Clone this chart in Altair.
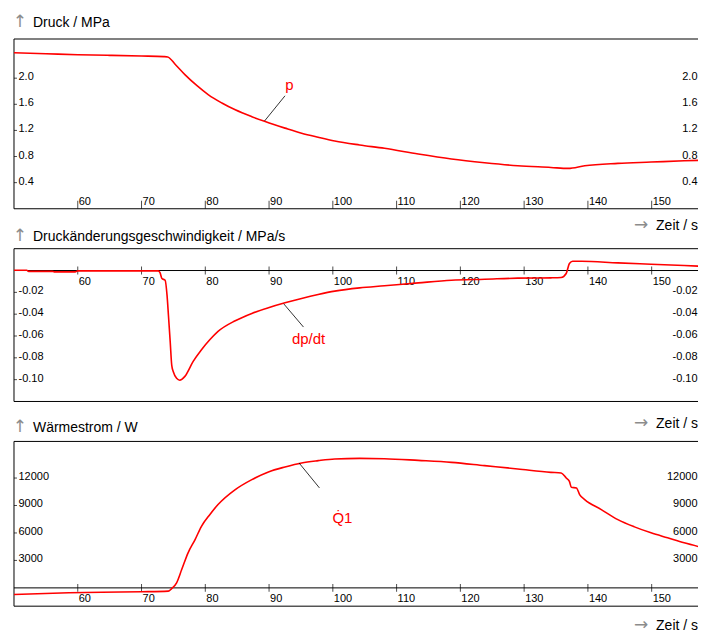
import altair as alt
import pandas as pd

# ---------------- data ----------------
t_p = [50, 55, 60, 65, 70, 73.5, 74.1, 75.3, 76.8, 78.7, 80.5, 82.6, 84.7, 87.3, 89.4,
       92.5, 95.1, 97.7, 100.3, 104.2, 108.1, 113.4, 118.6, 123.8, 129.0, 134.2, 136.9,
       139.5, 144.7, 149.9, 155.1, 158.8]
p_vals = [2.39, 2.375, 2.36, 2.35, 2.34, 2.33, 2.325, 2.21, 2.055, 1.885, 1.745, 1.62, 1.515,
          1.41, 1.335, 1.235, 1.157, 1.095, 1.038, 0.977, 0.926, 0.838, 0.762, 0.705, 0.659,
          0.633, 0.618, 0.659, 0.695, 0.715, 0.735, 0.746]

t_dp = [50, 52, 52.3, 56, 56.3, 59.6, 60, 65, 72.6, 72.9, 73.2, 73.7, 74.0, 74.22, 74.5,
        74.74, 75.0, 75.5, 76.0, 76.8, 78.1, 79.4, 80.7, 82.0, 84.7, 87.3, 89.9, 92.5, 95.1,
        97.7, 100.3, 104.2, 108.1, 113.4, 118.6, 123.8, 129.0, 134.2, 135.8, 136.6, 137.1,
        137.6, 139.0, 144.7, 149.9, 155.1, 158.8]
dp_vals = [0.0003, 0.0003, -0.0008, -0.0008, -0.0012, -0.0012, -0.0003, -0.0003, -0.0003,
           -0.002, -0.0073, -0.0089, -0.0226, -0.041, -0.0655, -0.0869, -0.093, -0.0988,
           -0.1005, -0.097, -0.0833, -0.0726, -0.0635, -0.0558, -0.046, -0.0393, -0.0341,
           -0.0296, -0.0256, -0.022, -0.0189, -0.0159, -0.014, -0.0113, -0.0089, -0.008,
           -0.007, -0.0067, -0.0064, -0.0027, 0.0064, 0.0085, 0.0085, 0.007, 0.0058, 0.0046,
           0.0037]

t_q = [50, 58.6, 63.8, 70, 74.2, 74.7, 75.5, 76.3, 77.3, 78.4, 79.4, 80.7, 82.0, 84.7, 87.3,
       89.9, 92.5, 95.1, 97.7, 100.3, 104.2, 108.1, 113.4, 118.6, 123.8, 129.0, 134.2, 135.8,
       136.6, 137.1, 137.4, 138.2, 138.7, 139.5, 142.1, 144.7, 147.3, 149.9, 152.5, 155.1,
       158.8]
q_vals = [-720, -535, -470, -425, -360, -100, 555, 2000, 3830, 5280, 6730, 8000, 9100, 10735,
          11825, 12665, 13210, 13650, 13900, 14085, 14150, 14115, 13930, 13715, 13355, 12995,
          12620, 12555, 12010, 11640, 10985, 10920, 10190, 9645, 8555, 7460, 6665, 6010, 5465,
          4920, 4265]

x_ticks = [60, 70, 80, 90, 100, 110, 120, 130, 140, 150]
x_labels = ["60", "70", "80", "90", "100", "110", "120", "130", "140", "150"]

p_ticks = [0.4, 0.8, 1.2, 1.6, 2.0]
p_labels = ["0.4", "0.8", "1.2", "1.6", "2.0"]
dp_ticks = [-0.02, -0.04, -0.06, -0.08, -0.10]
dp_labels = ["-0.02", "-0.04", "-0.06", "-0.08", "-0.10"]
q_ticks = [3000, 6000, 9000, 12000]
q_labels = ["3000", "6000", "9000", "12000"]

# annotation: curve point (t, y), leader end (t2, y2), label position (tl, yl)
p_annot = dict(t=89.3, y=1.345, t2=92.5, y2=1.73, tl=93.2, yl=1.82, text="p")
dp_annot = dict(t=92.3, y=-0.0305, t2=95.4, y2=-0.0518, tl=96.2, yl=-0.0675, text="dp/dt")
q_annot = dict(t=94.7, y=13650, t2=97.9, y2=10920, tl=101.5, yl=7135, text="Q\u03071")

# ---------------- styling ----------------
W = 685
PX_PER_S = 6.386
X_DOMAIN = [50, 50 + W / PX_PER_S]
FONT = "Liberation Sans"
ARROW_FONT = "DejaVu Sans"
RED = "#ff0000"
GRAY = "#8c8c8c"

one = pd.DataFrame({"z": [0]})


def panel(t, vals, ydomain, height, yticks, ylabels, title, title_y, zeit_y,
          xlab_dy, top_axis, annot):
    xs = alt.Scale(domain=X_DOMAIN, nice=False, zero=False)
    ys = alt.Scale(domain=ydomain, nice=False, zero=False)
    df = pd.DataFrame({"t": t, "v": vals})
    xt = pd.DataFrame({"t": x_ticks, "lab": x_labels, "v": [0] * len(x_ticks)})
    yt = pd.DataFrame({"v": yticks, "lab": ylabels})
    an = pd.DataFrame([annot])

    X = alt.X("t:Q", scale=xs, axis=None)
    Y = alt.Y("v:Q", scale=ys, axis=None)

    line = alt.Chart(df).mark_line(color=RED, strokeWidth=1.6, clip=True,
                                   interpolate="monotone").encode(x=X, y=Y)

    # frame: left, top, bottom
    left = alt.Chart(one).mark_rule(color="black", strokeWidth=1).encode(
        x=alt.value(0), y=alt.value(0), y2=alt.value(height))
    top = alt.Chart(one).mark_rule(color="black", strokeWidth=1).encode(
        x=alt.value(0), x2=alt.value(W), y=alt.value(0))
    bottom = alt.Chart(one).mark_rule(color="black", strokeWidth=1).encode(
        x=alt.value(0), x2=alt.value(W), y=alt.value(height))
    zero = alt.Chart(pd.DataFrame({"v": [0]})).mark_rule(color="black", strokeWidth=1).encode(
        x=alt.value(0), x2=alt.value(W), y=Y)

    if top_axis:
        xtick = alt.Chart(xt).mark_tick(orient="vertical", size=8, thickness=1,
                                        color="black", yOffset=-4).encode(x=X, y=Y)
    else:
        xtick = alt.Chart(xt).mark_tick(orient="vertical", size=8, thickness=1,
                                        color="black").encode(x=X, y=Y)
    xlab = alt.Chart(xt).mark_text(align="left", baseline="alphabetic", dx=1, dy=xlab_dy,
                                   fontSize=11, font=FONT, color="black").encode(
        x=X, y=Y, text="lab:N")

    ytick = alt.Chart(yt).mark_tick(orient="horizontal", size=3, thickness=1,
                                    color="black", xOffset=1.5).encode(x=alt.value(0), y=Y)
    ylab_l = alt.Chart(yt).mark_text(align="left", baseline="middle", dy=-1, fontSize=11,
                                     font=FONT, color="black").encode(
        x=alt.value(4.5), y=Y, text="lab:N")
    ylab_r = alt.Chart(yt).mark_text(align="right", baseline="middle", dy=-1, fontSize=11,
                                     font=FONT, color="black").encode(
        x=alt.value(W - 0.5), y=Y, text="lab:N")

    leader = alt.Chart(an).mark_rule(color="black", strokeWidth=0.8).encode(
        x=alt.X("t:Q", scale=xs, axis=None), y=alt.Y("y:Q", scale=ys, axis=None),
        x2="t2:Q", y2="y2:Q")
    alab = alt.Chart(an).mark_text(align="center", baseline="alphabetic", fontSize=15,
                                   font=FONT, color=RED).encode(
        x=alt.X("tl:Q", scale=xs, axis=None), y=alt.Y("yl:Q", scale=ys, axis=None),
        text="text:N")

    up = alt.Chart(one).mark_text(align="center", baseline="alphabetic", fontSize=17,
                                  font=ARROW_FONT, color=GRAY).encode(
        x=alt.value(6), y=alt.value(title_y), text=alt.value("\u2191"))
    ttl = alt.Chart(one).mark_text(align="left", baseline="alphabetic", fontSize=14,
                                   font=FONT, color="black").encode(
        x=alt.value(19), y=alt.value(title_y), text=alt.value(title))
    arr = alt.Chart(one).mark_text(align="center", baseline="alphabetic", fontSize=17,
                                   font=ARROW_FONT, color=GRAY).encode(
        x=alt.value(W - 57), y=alt.value(height + zeit_y), text=alt.value("\u2192"))
    zeit = alt.Chart(one).mark_text(align="right", baseline="alphabetic", fontSize=14,
                                    font=FONT, color="black").encode(
        x=alt.value(W), y=alt.value(height + zeit_y), text=alt.value("Zeit / s"))

    layers = [left, top, bottom]
    if not top_axis:
        layers.append(zero)
    layers += [xtick, xlab, ytick, ylab_l, ylab_r, line, leader, alab, up, ttl, arr, zeit]
    return alt.layer(*layers).properties(width=W, height=height)


p1 = panel(t_p, p_vals, [0, 2.6], 170, p_ticks, p_labels, "Druck / MPa", -12.3, 21.7,
           -4, True, p_annot)
p2 = panel(t_dp, dp_vals, [-0.12, 0.02], 153, dp_ticks, dp_labels,
           "Druck\u00e4nderungsgeschwindigkeit / MPa/s", -7.5, 26.5, 14, False, dp_annot)
p3 = panel(t_q, q_vals, [-2000, 16000], 165, q_ticks, q_labels, "W\u00e4rmestrom / W",
           -9.3, 24, 14, False, q_annot)

chart = alt.vconcat(p1, p2, p3, spacing=40, bounds="flush").properties(
    padding={"left": 4, "top": 3.6, "right": 0, "bottom": 0}
).configure_view(stroke=None)

chart.save("out.html", embed_options={"renderer": "svg", "actions": False})
